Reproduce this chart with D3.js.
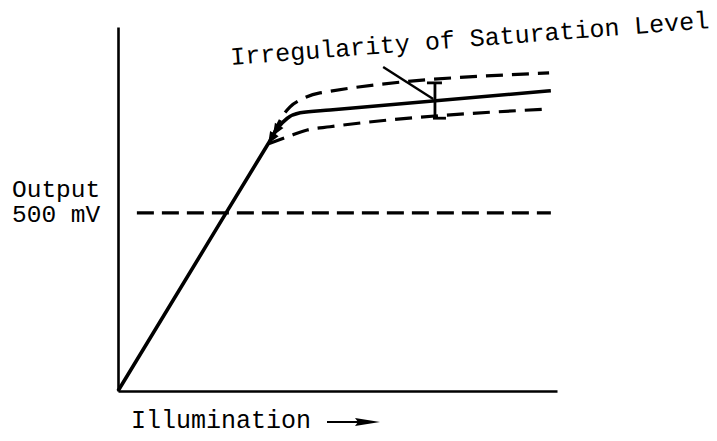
<!DOCTYPE html>
<html>
<head>
<meta charset="utf-8">
<script src="https://cdn.jsdelivr.net/npm/d3@7"></script>
<style>
  html, body { margin: 0; padding: 0; background: #fff; }
  svg { display: block; }
  text { font-family: "Liberation Mono", "DejaVu Sans Mono", monospace; fill: #000; }
</style>
</head>
<body>
<script>
// ---- data (illumination in arbitrary units, output in mV) ----
const solidX   = [0, 20, 34, 36.5, 38.5, 41.5, 48.3, 98.6];
const solidY   = [0, 406, 690, 740, 765, 781, 789, 843];
const upperX   = [35.3, 37.4, 39.2, 41.5, 46, 98.2];
const upperY   = [717, 770, 798, 817, 837, 893];
const lowerX   = [34.2, 38.5, 43.1, 48.3, 98.2];
const lowerY   = [694, 713, 733, 742, 792];
const refLevel = 500;            // mV
const refRange = [4.3, 98.6];    // illumination extent of the 500 mV line
const bracketX = 72.2;           // where the irregularity is marked
const leaderFrom = [60.4, 910];
const leaderTo   = [71.8, 820];
const yLabels  = ["Output", "500 mV"];
const xLabel   = "Illumination";
const title    = "Irregularity of Saturation Level";

const W = 717, H = 441;
const svg = d3.select("body").append("svg").attr("width", W).attr("height", H);

const x = d3.scaleLinear().domain([0, 100]).range([118, 557]);
const y = d3.scaleLinear().domain([0, 1022]).range([391, 27]);

// axes (lines only, no ticks)
svg.append("g").attr("transform", `translate(0,${y(0)})`)
  .call(d3.axisBottom(x).tickValues([]).tickSizeOuter(0))
  .select(".domain").attr("stroke", "#000").attr("stroke-width", 2.6);
svg.append("g").attr("transform", `translate(${x(0)},0)`)
  .call(d3.axisLeft(y).tickValues([]).tickSizeOuter(0))
  .select(".domain").attr("stroke", "#000").attr("stroke-width", 2.6);

const zip = (xs, ys) => xs.map((v, i) => [v, ys[i]]);
const line = d3.line().x(d => x(d[0])).y(d => y(d[1])).curve(d3.curveMonotoneX);

// 500 mV reference line
svg.append("line")
  .attr("x1", x(refRange[0])).attr("x2", x(refRange[1]))
  .attr("y1", y(refLevel)).attr("y2", y(refLevel))
  .attr("stroke", "#000").attr("stroke-width", 3.2).attr("stroke-dasharray", "17,8");

// dashed spread curves
[zip(upperX, upperY), zip(lowerX, lowerY)].forEach(pts => {
  svg.append("path").attr("d", line(pts))
    .attr("fill", "none").attr("stroke", "#000").attr("stroke-width", 3.2)
    .attr("stroke-dasharray", "17,9");
});

// main curve
svg.append("path").attr("d", line(zip(solidX, solidY)))
  .attr("fill", "none").attr("stroke", "#000").attr("stroke-width", 3.6)
  .attr("stroke-linejoin", "round");

// arrowheads where dashed curves meet the solid line (pointing down the slope)
const ang = Math.atan2(y(solidY[2]) - y(solidY[1]), x(solidX[2]) - x(solidX[1])) + Math.PI;
[[upperX[0], upperY[0]], [lowerX[0], lowerY[0]]].forEach(p => {
  const px = x(p[0]), py = y(p[1]);
  const L = 12, Wd = 5;
  const bx = px - L * Math.cos(ang), by = py - L * Math.sin(ang);
  const nx = -Math.sin(ang), ny = Math.cos(ang);
  svg.append("path")
    .attr("d", `M${px},${py}L${bx + nx * Wd},${by + ny * Wd}L${bx - nx * Wd * 0.3},${by - ny * Wd * 0.3}L${bx - nx * Wd},${by - ny * Wd}Z`)
    .attr("fill", "#000");
});

// irregularity bracket
const interp = (xs, ys, v) => {
  for (let i = 0; i < xs.length - 1; i++)
    if (v >= xs[i] && v <= xs[i + 1]) return ys[i] + (ys[i + 1] - ys[i]) * (v - xs[i]) / (xs[i + 1] - xs[i]);
  return ys[ys.length - 1];
};
const bx = x(bracketX);
const yU = y(interp(upperX, upperY, bracketX));
const yS = y(interp(solidX, solidY, bracketX));
const yL = y(interp(lowerX, lowerY, bracketX));
const br = svg.append("g").attr("stroke", "#000").attr("stroke-width", 2.8).attr("fill", "none");
br.append("line").attr("x1", bx).attr("x2", bx).attr("y1", yU).attr("y2", yS);
br.append("line").attr("x1", bx - 8).attr("x2", bx + 7).attr("y1", yU).attr("y2", yU);
br.append("line").attr("x1", bx).attr("x2", bx).attr("y1", yS).attr("y2", yL);
br.append("line").attr("x1", bx - 2).attr("x2", bx + 11).attr("y1", yL).attr("y2", yL);

// leader from title to bracket
svg.append("line")
  .attr("x1", x(leaderFrom[0])).attr("y1", y(leaderFrom[1]))
  .attr("x2", x(leaderTo[0])).attr("y2", y(leaderTo[1]))
  .attr("stroke", "#000").attr("stroke-width", 2.4);

// texts
svg.append("text").attr("x", 231).attr("y", 65)
  .attr("transform", "rotate(-4.4,231,65)")
  .attr("font-size", 25).text(title);

svg.append("text").attr("x", 12).attr("y", 197).attr("font-size", 24.5).text(yLabels[0]);
svg.append("text").attr("x", 12).attr("y", 222).attr("font-size", 24.5).text(yLabels[1]);

svg.append("text").attr("x", 131).attr("y", 428).attr("font-size", 25).text(xLabel);

// arrow after Illumination
svg.append("line").attr("x1", 327).attr("x2", 362).attr("y1", 422).attr("y2", 422)
  .attr("stroke", "#000").attr("stroke-width", 2);
svg.append("path").attr("d", "M380,422L355,418L358,422L355,426Z").attr("fill", "#000");
</script>
</body>
</html>
